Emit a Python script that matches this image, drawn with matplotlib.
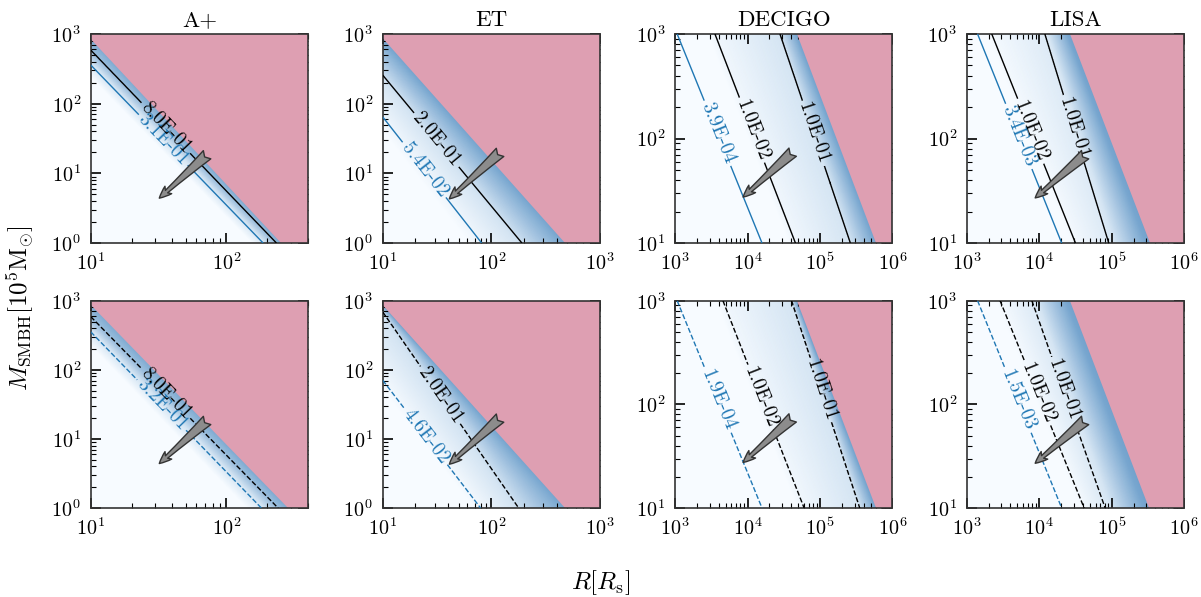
import numpy as np
import matplotlib
matplotlib.use('Agg')
import matplotlib.pyplot as plt
from matplotlib.colors import LogNorm, LinearSegmentedColormap

plt.rcParams['font.family'] = ['cmr10', 'DejaVu Serif']
plt.rcParams['mathtext.fontset'] = 'cm'
plt.rcParams['axes.formatter.use_mathtext'] = True
plt.rcParams['axes.unicode_minus'] = False

# ---- data ----
detectors = ['A+', 'ET', 'DECIGO', 'LISA']
r_limits = [(1e1, 4e2), (1e1, 1e3), (1e3, 1e6), (1e3, 1e6)]
m_limits = [(1e0, 1e3), (1e0, 1e3), (1e1, 1e3), (1e1, 1e3)]

# top row (solid contours)
solid_levels = [[3.1e-1, 8.0e-1], [5.4e-2, 2.0e-1], [3.9e-4, 1e-2, 1e-1], [3.4e-3, 1e-2, 1e-1]]
# log10(R) where each contour crosses the upper / lower M edge of the panel
solid_r_upper = [[0.779, 0.886], [0.402, 0.687], [3.03, 3.55, 4.45], [3.15, 3.345, 4.08]]
solid_r_lower = [[2.27, 2.368], [1.91, 2.28], [4.20, 4.66, 5.42], [4.31, 4.50, 4.96]]
solid_label_logm = [[1.48, 1.65], [1.05, 1.48], [2.05, 2.08, 2.05], [2.02, 2.07, 2.10]]

# bottom row (dashed contours)
dashed_levels = [[3.2e-1, 8.0e-1], [4.6e-2, 2.0e-1], [1.9e-4, 1e-2, 1e-1], [1.5e-3, 1e-2, 1e-1]]
dashed_r_upper = [[0.778, 0.885], [0.44, 0.93], [3.03, 3.66, 4.61], [3.15, 3.46, 3.90]]
dashed_r_lower = [[2.257, 2.38], [1.90, 2.25], [4.20, 4.78, 5.55], [4.31, 4.62, 4.91]]
dashed_label_logm = [[1.49, 1.66], [1.03, 1.635], [2.04, 2.07, 2.14], [2.04, 2.11, 2.14]]

# edge of the excluded (pink) region, log10(R) at upper / lower M edge
edge_r_upper = [[0.966, 0.966, 4.68, 4.43], [0.970, 0.970, 4.68, 4.43]]
edge_r_lower = [[2.404, 2.68, 5.77, 5.53], [2.45, 2.68, 5.77, 5.51]]
edge_value = [1.11, 1.18, 3.65, 34.8]
color_range = [(0.153, 17.1), (0.0367, 82.0), (5.6e-3, 1e4), (7.0e-3, 3.5e5)]

arrow_tail = [(72, 18.5), (120, 20), (4.2e4, 74), (4.3e4, 70)]
arrow_head = [(32, 4.4), (41, 4.3), (8.7e3, 27.5), (8.8e3, 27)]

shade = LinearSegmentedColormap.from_list(
    'shade', [(0.0, '#f7fbff'), (0.2, '#d5e5f3'), (0.45, '#78a6cf'), (1.0, '#2f6aa8')])


def make_field(logr, logm, r_up, r_lo, log_vals):
    '''piecewise power-law field whose iso-lines are the lines read above'''
    lo, hi = logm[0], logm[-1]
    out = np.empty((len(logm), len(logr)))
    for j, m in enumerate(logm):
        fr = (hi - m) / (hi - lo)
        pos = r_up + (r_lo - r_up) * fr
        val = np.interp(logr, pos, log_vals)
        s0 = (log_vals[1] - log_vals[0]) / (pos[1] - pos[0])
        s1 = (log_vals[-1] - log_vals[-2]) / (pos[-1] - pos[-2])
        left = logr < pos[0]
        right = logr > pos[-1]
        val[left] = log_vals[0] + s0 * (logr[left] - pos[0])
        val[right] = log_vals[-1] + s1 * (logr[right] - pos[-1])
        out[j] = val
    return 10 ** out


fig = plt.figure(figsize=(12.01, 5.97), dpi=100)
W, H = 1201, 597
lefts = [90.7, 382.7, 675, 966.7]
rows = [(34, 243), (300.7, 508)]

for row in range(2):
    if row == 0:
        levels_all, r_up_all, r_lo_all, lab_all, ls = solid_levels, solid_r_upper, solid_r_lower, solid_label_logm, 'solid'
    else:
        levels_all, r_up_all, r_lo_all, lab_all, ls = dashed_levels, dashed_r_upper, dashed_r_lower, dashed_label_logm, 'dashed'
    top_px, bot_px = rows[row]
    for k in range(4):
        ax = fig.add_axes([lefts[k] / W, 1 - bot_px / H, 217.5 / W, (bot_px - top_px) / H])
        (x0, x1), (y0, y1) = r_limits[k], m_limits[k]
        ax.set_xscale('log')
        ax.set_yscale('log')
        ax.set_xlim(x0, x1)
        ax.set_ylim(y0, y1)

        logr = np.linspace(np.log10(x0), np.log10(x1), 400)
        logm = np.linspace(np.log10(y0), np.log10(y1), 400)
        levels = levels_all[k]
        r_up = np.array(r_up_all[k] + [edge_r_upper[row][k]])
        r_lo = np.array(r_lo_all[k] + [edge_r_lower[row][k]])
        log_vals = np.log10(np.array(levels + [edge_value[k]]))
        F = make_field(logr, logm, r_up, r_lo, log_vals)
        R, M = np.meshgrid(10 ** logr, 10 ** logm)

        vmin, vmax = color_range[k]
        ax.pcolormesh(R, M, np.clip(F, vmin, vmax), cmap=shade, norm=LogNorm(vmin, vmax),
                      shading='gouraud', rasterized=True, zorder=1)

        # excluded region
        eu, el = edge_r_upper[row][k], edge_r_lower[row][k]
        ax.fill([10 ** eu, x1 * 2, x1 * 2, 10 ** el], [y1, y1, y0, y0],
                color='#de9fb2', lw=0, zorder=2)

        colors = ['#1f77b4'] + ['k'] * (len(levels) - 1)
        cs = ax.contour(R, M, F, levels=levels, colors=colors, linewidths=1.0,
                        linestyles=ls, zorder=3)
        hi, lo = np.log10(y1), np.log10(y0)
        positions = []
        for i, lm in enumerate(lab_all[k]):
            fr = (hi - lm) / (hi - lo)
            lr = r_up_all[k][i] + (r_lo_all[k][i] - r_up_all[k][i]) * fr
            positions.append((10 ** lr, 10 ** lm))
        ax.clabel(cs, fmt='%.1E', fontsize=14, manual=positions, inline_spacing=3)

        ax.annotate('', xy=arrow_head[k], xytext=arrow_tail[k],
                    arrowprops=dict(arrowstyle='fancy,head_length=0.55,head_width=0.45,tail_width=0.5',
                                    fc='#8c8c8c', ec='#333333', lw=1.0,
                                    shrinkA=0, shrinkB=0, mutation_scale=16),
                    zorder=6)

        ax.tick_params(which='both', direction='in', top=True, right=True, labelsize=14.5, pad=7)
        ax.tick_params(which='major', length=7, width=1.2)
        ax.tick_params(which='minor', length=3.5, width=0.8)
        for sp in ax.spines.values():
            sp.set_linewidth(1.2)
            sp.set_color('#333333')
        if row == 0:
            ax.set_title(detectors[k], fontsize=16.5, pad=6)

fig.text(0.017, 0.484, r'$M_{\rm SMBH}[10^5{\rm M}_{\odot}]$', rotation=90,
         va='center', ha='center', fontsize=18)
fig.text(0.5, 0.024, r'$R[R_{\rm s}]$', va='center', ha='center', fontsize=18)

fig.savefig('out.png', dpi=100)
